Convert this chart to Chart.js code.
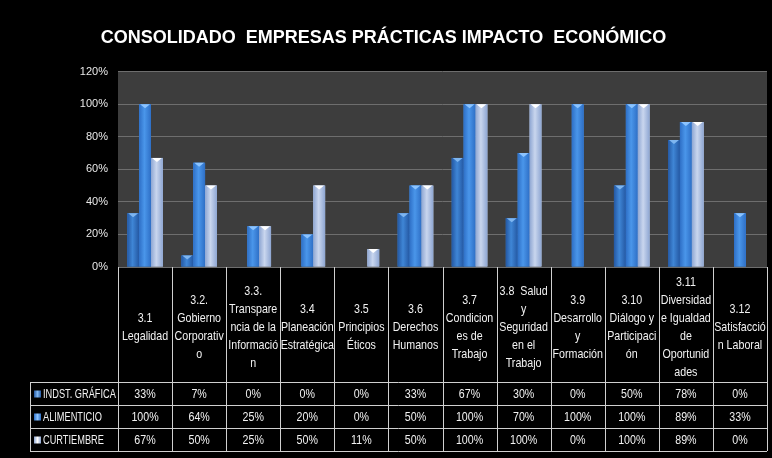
<!DOCTYPE html>
<html>
<head>
<meta charset="utf-8">
<script src="https://cdn.jsdelivr.net/npm/chart.js@4/dist/chart.umd.min.js"></script>
<style>
  html, body { margin: 0; padding: 0; background: #000; }
  #wrap { width: 772px; height: 458px; position: relative; }
</style>
</head>
<body>
<div id="wrap"><canvas id="chart" width="772" height="458"></canvas></div>
<script>
// Categories (header lines as wrapped in the table)
const categories = [
    ['3.1', 'Legalidad'],
    ['3.2.', 'Gobierno', 'Corporativ', 'o'],
    ['3.3.', 'Transpare', 'ncia de la', 'Informació', 'n'],
    ['3.4', 'Planeación', 'Estratégica'],
    ['3.5', 'Principios', 'Éticos'],
    ['3.6', 'Derechos', 'Humanos'],
    ['3.7', 'Condicion', 'es de', 'Trabajo'],
    ['3.8  Salud', 'y', 'Seguridad', 'en el', 'Trabajo'],
    ['3.9', 'Desarrollo', 'y', 'Formación'],
    ['3.10', 'Diálogo y', 'Participaci', 'ón'],
    ['3.11', 'Diversidad', 'e Igualdad', 'de', 'Oportunid', 'ades'],
    ['3.12', 'Satisfacció', 'n Laboral']
];

// Series values (%)
const indstGrafica = [33, 7, 0, 0, 0, 33, 67, 30, 0, 50, 78, 0];
const alimenticio  = [100, 64, 25, 20, 0, 50, 100, 70, 100, 100, 89, 33];
const curtiembre   = [67, 50, 25, 50, 11, 50, 100, 100, 0, 100, 89, 0];

const seriesNames = ['INDST. GRÁFICA', 'ALIMENTICIO', 'CURTIEMBRE'];
const yTicks = [0, 20, 40, 60, 80, 100, 120];

// Colors: [edge, middle, cap]
const seriesColors = [
    ['#2458a3', '#3f86d6', '#7fb6f0'],
    ['#2e6fc6', '#4a96ea', '#8cc4ff'],
    ['#8ea6d2', '#c9d6ee', '#ffffff']
];

const FONT = '"Liberation Sans", Arial, sans-serif';

// draw horizontally condensed text (reference uses a narrow face)
function narrowText(ctx, text, x, y, sx) {
    ctx.save();
    ctx.translate(x, y);
    ctx.scale(sx, 1);
    ctx.fillText(text, 0, 0);
    ctx.restore();
}

// Dark plot background
const plotBg = {
    id: 'plotBg',
    beforeDraw(chart) {
        const { ctx, chartArea: a } = chart;
        ctx.save();
        ctx.fillStyle = '#000';
        ctx.fillRect(0, 0, chart.width, chart.height);
        ctx.fillStyle = '#3d3d3d';
        ctx.fillRect(a.left, a.top, a.right - a.left, a.bottom - a.top);
        ctx.restore();
    }
};

// Cylinder shading over each bar
const barShade = {
    id: 'barShade',
    afterDatasetsDraw(chart) {
        const ctx = chart.ctx;
        chart.data.datasets.forEach((ds, di) => {
            const meta = chart.getDatasetMeta(di);
            const c = seriesColors[di];
            meta.data.forEach(bar => {
                const h = bar.base - bar.y;
                if (h <= 0.5) return;
                const l = bar.x - bar.width / 2, r = bar.x + bar.width / 2;
                const g = ctx.createLinearGradient(l, 0, r, 0);
                g.addColorStop(0, c[0]);
                g.addColorStop(0.45, c[1]);
                g.addColorStop(1, c[0]);
                ctx.save();
                ctx.fillStyle = g;
                ctx.fillRect(l, bar.y, bar.width, h);
                // top cap
                ctx.fillStyle = c[2];
                ctx.beginPath();
                ctx.moveTo(l + 1, bar.y);
                ctx.lineTo(r - 1, bar.y);
                ctx.lineTo(bar.x, bar.y + Math.min(4, h));
                ctx.closePath();
                ctx.fill();
                ctx.restore();
            });
        });
    }
};

// Data table under the x axis
const dataTable = {
    id: 'dataTable',
    afterDraw(chart) {
        const { ctx, chartArea: a } = chart;
        const x = chart.scales.x;
        const cw = (a.right - a.left) / categories.length;
        const top = a.bottom;
        const headerH = 115;
        const rowH = 23;
        const legendLeft = 30;
        const rows = [indstGrafica, alimenticio, curtiembre];
        const bottom = top + headerH + rowH * rows.length;
        const sx = 0.82;

        ctx.save();
        ctx.strokeStyle = '#d0d0d0';
        ctx.lineWidth = 1;
        ctx.fillStyle = '#f2f2f2';
        ctx.textAlign = 'center';
        ctx.textBaseline = 'middle';
        ctx.font = '13px ' + FONT;

        // vertical lines
        for (let i = 0; i <= categories.length; i++) {
            const px = Math.round(x.getPixelForValue(0) - cw / 2 + i * cw) + 0.5;
            ctx.beginPath();
            ctx.moveTo(px, top);
            ctx.lineTo(px, bottom);
            ctx.stroke();
        }
        ctx.beginPath();
        ctx.moveTo(legendLeft + 0.5, top + headerH);
        ctx.lineTo(legendLeft + 0.5, bottom);
        ctx.stroke();

        // horizontal lines
        for (let r = 0; r <= rows.length; r++) {
            const py = Math.round(top + headerH + r * rowH) + 0.5;
            ctx.beginPath();
            ctx.moveTo(legendLeft, py);
            ctx.lineTo(a.right, py);
            ctx.stroke();
        }

        // header texts
        const lh = 18;
        categories.forEach((lines, i) => {
            const cx = x.getPixelForValue(i);
            const cy = top + 60;
            const start = cy - (lines.length - 1) * lh / 2;
            lines.forEach((t, k) => narrowText(ctx, t, cx, start + k * lh, sx));
        });

        // value rows
        rows.forEach((vals, r) => {
            const cy = top + headerH + r * rowH + rowH / 2 + 1;
            vals.forEach((v, i) => narrowText(ctx, v + '%', x.getPixelForValue(i), cy, sx));
            // legend key
            const c = seriesColors[r];
            const kx = legendLeft + 4, ky = cy - 4;
            const g = ctx.createLinearGradient(kx, 0, kx + 7, 0);
            g.addColorStop(0, c[0]);
            g.addColorStop(0.5, c[2]);
            g.addColorStop(1, c[0]);
            ctx.fillStyle = g;
            ctx.fillRect(kx, ky, 7, 7);
            ctx.fillStyle = '#f2f2f2';
            ctx.textAlign = 'left';
            narrowText(ctx, seriesNames[r], legendLeft + 13, cy, 0.71);
            ctx.textAlign = 'center';
        });
        ctx.restore();
    }
};

new Chart(document.getElementById('chart'), {
    type: 'bar',
    data: {
        labels: categories.map(c => c.join(' ')),
        datasets: [
            { label: seriesNames[0], data: indstGrafica, backgroundColor: seriesColors[0][1] },
            { label: seriesNames[1], data: alimenticio, backgroundColor: seriesColors[1][1] },
            { label: seriesNames[2], data: curtiembre, backgroundColor: seriesColors[2][1] }
        ]
    },
    options: {
        responsive: false,
        animation: false,
        devicePixelRatio: 1,
        layout: { padding: { left: 0, right: 5, top: 0, bottom: 191 } },
        datasets: {
            bar: { categoryPercentage: 0.66, barPercentage: 1.0, borderWidth: 0 }
        },
        scales: {
            x: { display: false },
            y: {
                min: 0,
                max: 120,
                afterBuildTicks(scale) { scale.ticks = yTicks.map(v => ({ value: v })); },
                afterFit(scale) { scale.width = 118; },
                border: { display: false },
                grid: { color: '#6e6e6e', lineWidth: 1, drawTicks: false },
                ticks: {
                    color: '#e8e8e8',
                    padding: 10,
                    font: { family: FONT, size: 11 },
                    callback: v => v + '%'
                }
            }
        },
        plugins: {
            legend: { display: false },
            tooltip: { enabled: false },
            title: {
                display: true,
                text: 'CONSOLIDADO  EMPRESAS PRÁCTICAS IMPACTO  ECONÓMICO',
                color: '#ffffff',
                font: { family: FONT, size: 18, weight: 'bold' },
                padding: { top: 27, bottom: 23 }
            }
        }
    },
    plugins: [plotBg, barShade, dataTable]
});
</script>
</body>
</html>
